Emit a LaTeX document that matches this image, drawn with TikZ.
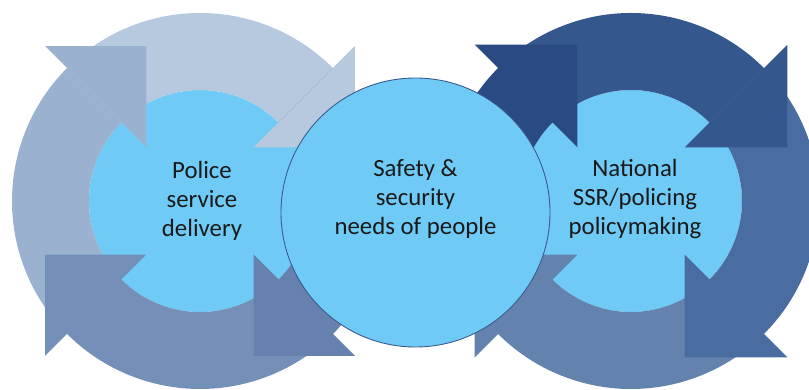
\documentclass[tikz,border=0pt]{standalone}
\usepackage{fontspec}
\setmainfont{Carlito}
\usetikzlibrary{positioning}

\definecolor{coreblue}{HTML}{6FCBF5}
\definecolor{rim}{HTML}{3B5C8E}
\definecolor{polTop}{HTML}{B7C9DE}
\definecolor{polLeft}{HTML}{9AB2CF}
\definecolor{polBottom}{HTML}{7490B9}
\definecolor{polRight}{HTML}{6681AE}
\definecolor{natTop}{HTML}{34588E}
\definecolor{natLeft}{HTML}{2A4A84}
\definecolor{natBottom}{HTML}{6482AE}
\definecolor{natRight}{HTML}{4A6DA1}

\begin{document}
\begin{tikzpicture}[x=1pt, y=1pt,
  core/.style={circle, fill=coreblue, inner sep=0pt, minimum size=222pt},
  hub/.style={circle, draw=rim, line width=0.9pt, fill=coreblue, inner sep=0pt, minimum size=269pt},
  txt/.style={align=center, text=black!90, font=\fontsize{24.8}{29}\selectfont},
]
\useasboundingbox (0,0) rectangle (809,390);
\clip (0,0) rectangle (809,390);

% inner discs of both cycles
\node[core] (police) at (200,189) {};
\node[core] (policy) at (631,189) {};

% quarter rings first, heads on top of them
\foreach \ang/\col in {135/polLeft, 45/polTop, -45/polRight, -135/polBottom}
  \fill[\col, shift={(police)}, rotate=\ang] (-3:111) -- (-3:188)
    arc[start angle=-3, end angle=90, radius=188] -- (90:111)
    arc[start angle=90, end angle=-3, radius=111] -- cycle;
\foreach \ang/\col in {135/natLeft, 45/natTop, -45/natRight, -135/natBottom}
  \fill[\col, shift={(policy)}, rotate=\ang] (-3:111) -- (-3:188)
    arc[start angle=-3, end angle=90, radius=188] -- (90:111)
    arc[start angle=90, end angle=-3, radius=111] -- cycle;

\foreach \ang/\col in {135/polLeft, 45/polTop, -45/polRight, -135/polBottom}
  \fill[\col, shift={(police)}, rotate=\ang] (76,0) -- (219,0) -- (147.5,-71.5) -- cycle;
\foreach \ang/\col in {135/natLeft, 45/natTop, -45/natRight, -135/natBottom}
  \fill[\col, shift={(policy)}, rotate=\ang] (76,0) -- (221,0) -- (148.5,-72.5) -- cycle;

% centre circle
\node[hub] (people) at (415.5,177.5) {};

\node[txt] (policetxt) at ([xshift=2pt]police.center) {Police\\service\\delivery};
\node[txt] (peopletxt) at ([yshift=13pt]people.center) {Safety \&\\security\\needs of people};
\node[txt] (policytxt) at ([xshift=4pt, yshift=2pt]policy.center) {National\\SSR/policing\\policymaking};
\end{tikzpicture}
\end{document}
